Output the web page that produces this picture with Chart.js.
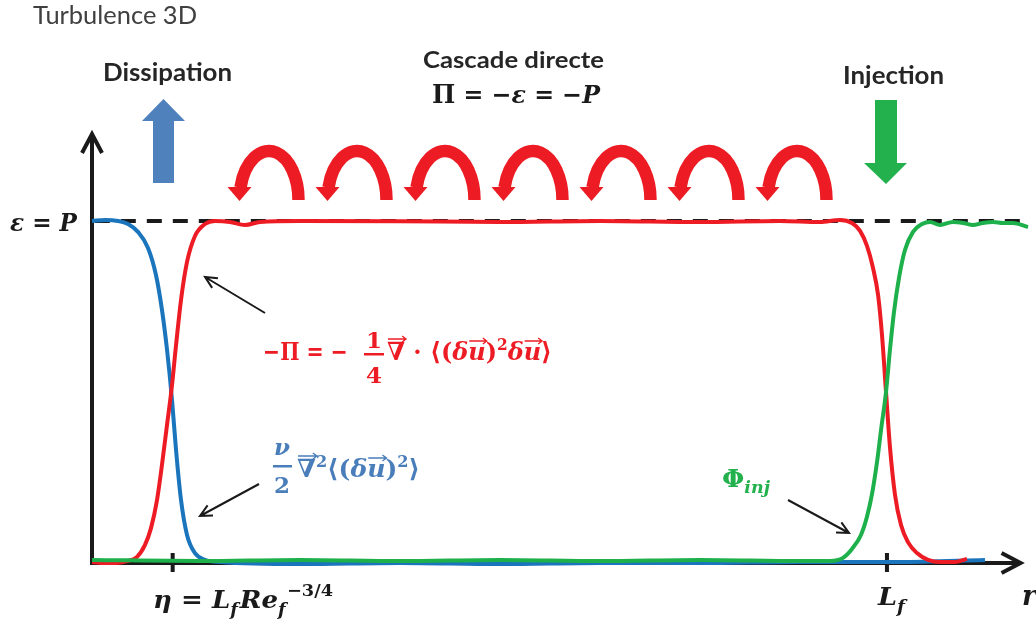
<!DOCTYPE html>
<html>
<head>
<meta charset="utf-8">
<script src="https://cdn.jsdelivr.net/npm/chart.js@4/dist/chart.umd.min.js"></script>
<style>
  html, body { margin: 0; padding: 0; background: #fff; }
</style>
</head>
<body>
<canvas id="turbChart" width="1036" height="624"></canvas>
<script>
// Positions r (en % de la longueur de l'axe) et flux normalisés par epsilon = P
const rBlue = [0, 1.39, 2.77, 3.84, 4.90, 5.97, 6.82, 7.46, 8.00, 8.53, 8.96, 9.49, 10.13, 10.98, 12.05, 13.65, 22.17, 32.84, 43.50, 54.16, 64.82, 75.48, 86.14, 95.20];
const blueVals = [1.0, 1.003, 1.0, 0.991, 0.968, 0.921, 0.842, 0.740, 0.623, 0.477, 0.330, 0.184, 0.082, 0.029, 0.009, 0.003, -0.003, 0, -0.003, 0, 0, 0.003, 0.003, 0.009];

const rRed = [0, 1.39, 2.67, 3.84, 4.80, 5.65, 6.29, 6.93, 7.46, 8.00, 8.53, 8.96, 9.49, 10.13, 10.98, 12.05, 13.11, 14.71, 16.31, 17.91, 22.17, 32.84, 43.50, 54.16, 64.82, 73.35, 77.61, 79.74, 81.02, 81.88, 82.62, 83.26, 83.80, 84.22, 84.65, 85.07, 85.61, 86.25, 86.99, 87.95, 89.13, 90.41, 92.01, 93.28];
const redVals = [0.003, 0, 0, 0.006, 0.018, 0.053, 0.102, 0.184, 0.287, 0.404, 0.520, 0.637, 0.769, 0.880, 0.956, 0.991, 1.0, 0.997, 0.988, 0.997, 1.0, 0.999, 0.997, 1.0, 0.997, 1.0, 0.997, 1.003, 0.994, 0.971, 0.927, 0.863, 0.784, 0.667, 0.500, 0.339, 0.199, 0.111, 0.061, 0.029, 0.009, 0.003, 0.003, 0.012];

const rGreen = [0, 11.51, 22.17, 32.84, 43.50, 54.16, 64.82, 75.48, 78.68, 80.06, 81.02, 81.98, 82.62, 83.16, 83.69, 84.12, 84.65, 85.07, 85.50, 86.03, 86.67, 87.53, 88.49, 89.34, 90.41, 91.79, 92.86, 93.92, 94.99, 96.06, 97.12, 98.19, 99.79];
const greenVals = [0.009, 0.006, 0.009, 0.006, 0.009, 0.006, 0.009, 0.006, 0.006, 0.015, 0.041, 0.082, 0.135, 0.202, 0.295, 0.389, 0.500, 0.623, 0.734, 0.833, 0.915, 0.968, 0.991, 0.997, 0.988, 0.997, 0.994, 0.988, 0.994, 0.997, 0.994, 0.994, 0.982];

// niveau epsilon = P (ligne en pointillés)
const rLevel = [0.3, 99.0];
const levelVals = [1, 1];

// graduations de l'axe r
const tickPos = [8.6, 84.75];

const toPoints = (xs, ys) => xs.map((x, i) => ({ x: x, y: ys[i] }));

const RED = '#ed1c24';
const BLUE = '#1b75bc';
const GREEN = '#1db04b';
const MATH = '"DejaVu Serif", "Liberation Serif", serif';
const SANS = 'Lato, "Open Sans", sans-serif';

// texte composé : segments [texte, police, décalage vertical, hauteur de la flèche vecteur]
function rich(ctx, segs, x, y, width, color) {
  ctx.save();
  const ws = segs.map(s => { ctx.font = s[1]; return ctx.measureText(s[0]).width; });
  const total = ws.reduce((a, b) => a + b, 0);
  const sx = width ? width / total : 1;
  ctx.translate(x, y);
  ctx.scale(sx, 1);
  ctx.fillStyle = color;
  ctx.strokeStyle = color;
  ctx.textAlign = 'left';
  ctx.textBaseline = 'alphabetic';
  let cx = 0;
  segs.forEach((s, i) => {
    ctx.font = s[1];
    ctx.fillText(s[0], cx, s[2] || 0);
    if (s[3]) {
      const top = (s[2] || 0) - s[3];
      const x1 = cx + 1, x2 = cx + ws[i] + 1;
      ctx.lineWidth = 1.4;
      ctx.beginPath();
      ctx.moveTo(x1, top); ctx.lineTo(x2, top);
      ctx.moveTo(x2 - 4, top - 3); ctx.lineTo(x2, top); ctx.lineTo(x2 - 4, top + 3);
      ctx.stroke();
    }
    cx += ws[i];
  });
  ctx.restore();
}

function centered(ctx, s, font, x, y, color) {
  ctx.save();
  ctx.font = font;
  ctx.fillStyle = color;
  ctx.textAlign = 'center';
  ctx.textBaseline = 'alphabetic';
  ctx.fillText(s, x, y);
  ctx.restore();
}

function thinArrow(ctx, x1, y1, x2, y2) {
  const a = Math.atan2(y2 - y1, x2 - x1);
  ctx.save();
  ctx.strokeStyle = '#1a1a1a';
  ctx.lineWidth = 2;
  ctx.beginPath();
  ctx.moveTo(x1, y1); ctx.lineTo(x2, y2);
  ctx.moveTo(x2 - 13 * Math.cos(a - 0.45), y2 - 13 * Math.sin(a - 0.45));
  ctx.lineTo(x2, y2);
  ctx.lineTo(x2 - 13 * Math.cos(a + 0.45), y2 - 13 * Math.sin(a + 0.45));
  ctx.stroke();
  ctx.restore();
}

function poly(ctx, pts, color) {
  ctx.save();
  ctx.fillStyle = color;
  ctx.beginPath();
  pts.forEach((p, i) => i ? ctx.lineTo(p[0], p[1]) : ctx.moveTo(p[0], p[1]));
  ctx.closePath();
  ctx.fill();
  ctx.restore();
}

// flèche courbe rouge de la cascade
function curlyArrow(ctx, x0) {
  const cx = x0 + 30, base = 200;
  ctx.save();
  ctx.strokeStyle = RED;
  ctx.lineWidth = 12.5;
  ctx.lineCap = 'butt';
  ctx.beginPath();
  ctx.ellipse(cx, base, 29.5, 49, 0, Math.PI + 0.26, 2 * Math.PI);
  ctx.stroke();
  ctx.restore();
  poly(ctx, [[x0 - 11.5, 187], [x0 + 12.5, 187], [x0 + 0.5, 201]], RED);
}

const decorPlugin = {
  id: 'decor',
  beforeDatasetsDraw(chart) {
    const ctx = chart.ctx;
    const xs = chart.scales.x, ys = chart.scales.y;
    const x0 = xs.getPixelForValue(0), y0 = ys.getPixelForValue(0);
    const top = chart.chartArea.top, xEnd = xs.getPixelForValue(99.1);
    ctx.save();
    ctx.strokeStyle = '#1a1a1a';
    ctx.lineWidth = 4;
    ctx.lineJoin = 'miter';
    // axes
    ctx.beginPath();
    ctx.moveTo(x0, y0 + 2); ctx.lineTo(x0, top + 2);
    ctx.moveTo(x0 - 2, y0); ctx.lineTo(xEnd - 2, y0);
    ctx.stroke();
    ctx.beginPath();
    ctx.moveTo(x0 - 10, top + 20); ctx.lineTo(x0, top + 1); ctx.lineTo(x0 + 10, top + 20);
    ctx.moveTo(xEnd - 20, y0 - 10); ctx.lineTo(xEnd - 1, y0); ctx.lineTo(xEnd - 20, y0 + 10);
    ctx.stroke();
    // graduations
    ctx.beginPath();
    tickPos.forEach(t => {
      const px = xs.getPixelForValue(t);
      ctx.moveTo(px, y0 - 10); ctx.lineTo(px, y0 + 9);
    });
    ctx.stroke();
    ctx.restore();
  },
  afterDraw(chart) {
    const ctx = chart.ctx;
    // titres
    rich(ctx, [['Turbulence 3D', '25px ' + SANS]], 33, 24, 164, '#404040');
    rich(ctx, [['Dissipation', 'bold 25px ' + SANS]], 103, 81, 129, '#262626');
    rich(ctx, [['Cascade directe', 'bold 23px ' + SANS]], 423, 68, 181, '#262626');
    rich(ctx, [['Injection', 'bold 25px ' + SANS]], 843, 84, 101, '#262626');
    rich(ctx, [['Π', 'bold 26px ' + MATH], [' = −', 'bold 25px ' + MATH], ['ε', 'bold italic 25px ' + MATH],
               [' = −', 'bold 25px ' + MATH], ['P', 'bold italic 25px ' + MATH]], 432, 103, 168, '#1a1a1a');

    // flèches épaisses
    poly(ctx, [[153, 183], [153, 121], [142, 121], [163.5, 99], [185, 121], [174, 121], [174, 183]], '#4f81bd');
    poly(ctx, [[875, 100], [897, 100], [897, 163], [907, 163], [886, 184], [864, 163], [875, 163]], '#22b14c');
    for (let k = 0; k < 7; k++) curlyArrow(ctx, 239 + k * 88);

    // étiquettes des axes
    rich(ctx, [['ε', 'bold italic 25px ' + MATH], [' = ', 'bold 25px ' + MATH], ['P', 'bold italic 25px ' + MATH]], 10, 231, 67, '#1a1a1a');
    rich(ctx, [['η', 'bold italic 25px ' + MATH], [' = ', 'bold 25px ' + MATH], ['L', 'bold italic 25px ' + MATH],
               ['f', 'bold italic 17px ' + MATH, 7], [' ', '6px ' + MATH], ['Re', 'bold italic 25px ' + MATH],
               ['f', 'bold italic 17px ' + MATH, 7], [' ', '4px ' + MATH],
               ['−3/4', 'bold 17px ' + MATH, -12]], 153, 608, 180, '#1a1a1a');
    rich(ctx, [['L', 'bold italic 25px ' + MATH], ['f', 'bold italic 17px ' + MATH, 7]], 878, 605, 27, '#1a1a1a');
    rich(ctx, [['r', 'bold italic 27px ' + MATH]], 1022, 605, 14, '#1a1a1a');

    // flux d'énergie (rouge)
    rich(ctx, [['−Π = −', 'bold 25px ' + MATH]], 263, 360, 85, RED);
    centered(ctx, '1', 'bold 23px ' + MATH, 374, 348, RED);
    centered(ctx, '4', 'bold 23px ' + MATH, 374, 383, RED);
    ctx.fillStyle = RED;
    ctx.fillRect(364, 353, 20, 2.5);
    rich(ctx, [['∇', 'bold 25px ' + MATH, 0, 21], [' · ⟨(', 'bold 25px ' + MATH], ['δ', 'bold italic 25px ' + MATH],
               ['u', 'bold italic 25px ' + MATH, 0, 19], [')', 'bold 25px ' + MATH], ['2', 'bold 16px ' + MATH, -10],
               ['δ', 'bold italic 25px ' + MATH], ['u', 'bold italic 25px ' + MATH, 0, 19], ['⟩', 'bold 25px ' + MATH]],
         387, 360, 165, RED);

    // dissipation (bleu)
    const lblue = '#4a7ebb';
    centered(ctx, 'ν', 'bold italic 23px ' + MATH, 282, 455, lblue);
    centered(ctx, '2', 'bold 23px ' + MATH, 282, 493, lblue);
    ctx.fillStyle = lblue;
    ctx.fillRect(273, 465, 19, 2.5);
    rich(ctx, [['∇', 'bold 25px ' + MATH, 0, 21], ['2', 'bold 16px ' + MATH, -10], ['⟨(', 'bold 25px ' + MATH],
               ['δ', 'bold italic 25px ' + MATH], ['u', 'bold italic 25px ' + MATH, 0, 19], [')', 'bold 25px ' + MATH],
               ['2', 'bold 16px ' + MATH, -10], ['⟩', 'bold 25px ' + MATH]], 297, 477, 123, lblue);

    // injection (vert)
    rich(ctx, [['Φ', 'bold 25px ' + MATH], ['inj', 'bold italic 17px ' + MATH, 6]], 722, 487, 48, '#22b14c');

    // flèches d'annotation
    thinArrow(ctx, 265, 313, 205, 277);
    thinArrow(ctx, 259, 484, 200, 516);
    thinArrow(ctx, 788, 500, 849, 533);
  }
};

const ctx = document.getElementById('turbChart').getContext('2d');
const lineStyle = { pointRadius: 0, borderWidth: 4, fill: false, cubicInterpolationMode: 'monotone', clip: false };

new Chart(ctx, {
  type: 'line',
  data: {
    datasets: [
      { label: 'Injection', data: toPoints(rGreen, greenVals), borderColor: GREEN, ...lineStyle },
      { label: 'Flux', data: toPoints(rRed, redVals), borderColor: RED, ...lineStyle },
      { label: 'Dissipation', data: toPoints(rBlue, blueVals), borderColor: BLUE, ...lineStyle },
      { label: 'epsilon = P', data: toPoints(rLevel, levelVals), borderColor: '#1a1a1a', borderDash: [15, 11],
        pointRadius: 0, borderWidth: 4, fill: false, clip: false }
    ]
  },
  options: {
    responsive: false,
    animation: false,
    devicePixelRatio: 1,
    layout: { padding: { left: 92, right: 6, top: 133, bottom: 61 } },
    scales: {
      x: { type: 'linear', min: 0, max: 100, display: false },
      y: { type: 'linear', min: 0, max: 1.257, display: false }
    },
    plugins: { legend: { display: false }, tooltip: { enabled: false } }
  },
  plugins: [decorPlugin]
});
</script>
</body>
</html>
